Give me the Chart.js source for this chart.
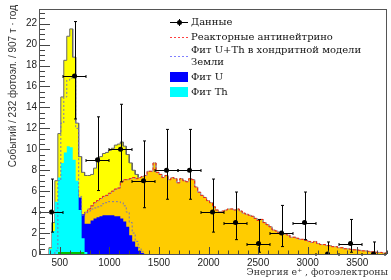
<!DOCTYPE html>
<html>
<head>
<meta charset="utf-8">
<script src="https://cdn.jsdelivr.net/npm/chart.js@4.4.0/dist/chart.umd.min.js"></script>
<style>
  html, body { margin: 0; padding: 0; background: #fff; }
</style>
</head>
<body>
<canvas id="geo" width="391" height="280"></canvas>
<script>
//! Data (points with Poisson error bars, 232 p.e. bins)

const dataE = [416, 648, 880, 1112, 1344, 1576, 1808, 2040, 2272, 2504, 2736, 2968, 3200, 3432, 3664];
const dataN = [4, 17, 9, 10, 7, 8, 8, 4, 3, 1, 2, 3, 0, 1, 0];
const dataLow = [2.09, 12.9, 6.06, 6.89, 4.42, 5.23, 5.23, 2.09, 1.37, 0.17, 0.71, 1.37, 0, 0.17, 0];
const dataHigh = [7.16, 22.2, 13.1, 14.3, 10.8, 11.9, 11.9, 7.16, 5.92, 3.3, 4.64, 5.92, 1.15, 3.3, 1.15];
const dataHalfBin = 116;

//! Model histograms (30 p.e. bins)

const binWidth = 30;

const totalStart = 390;
const totalFit = [0.6, 3.0, 7.0, 11.5, 15.0, 18.5, 20.8, 21.5, 18.8, 12.5, 9.3, 7.8, 7.5, 7.5, 7.6,
  8.2, 8.8, 9.3, 9.6, 9.7, 9.9, 10.1, 10.4, 10.5, 10.7, 10.3, 9.5, 8.7, 8.0, 7.6, 7.3];

const reactorStart = 690;
const reactor = [2.0, 3.6, 4.0, 4.3, 4.6, 4.9, 5.1, 5.3, 5.5, 5.6, 5.8, 6.0, 6.2, 6.3, 6.9, 7.1, 7.1,
  7.2, 7.3, 7.2, 7.3, 7.4,
  7.5, 7.9, 7.9, 8.7, 7.8, 7.6, 7.3, 7.5, 7.1, 7.3,
  7.2, 6.8, 7.2, 7.0, 6.9, 7.2, 7.1, 6.4, 5.9, 5.6,
  5.4, 5.1, 4.9, 4.5, 4.2, 4.0, 4.1, 4.2, 4.3, 4.3,
  4.2, 4.3, 4.1, 3.9, 3.8, 3.7, 3.6, 3.4, 3.2, 3.3,
  3.0, 2.8, 2.6, 2.3, 2.2, 2.0, 2.0, 1.9, 1.8, 1.6,
  1.6, 1.5, 1.4, 1.4, 1.3, 1.2, 1.1, 1.2, 1.0, 0.9,
  0.9, 0.8, 0.8, 0.7, 0.7, 0.6, 0.6, 0.5, 0.5, 0.45,
  0.4, 0.4, 0.35, 0.3, 0.3, 0.25, 0.2, 0.2, 0.15, 0.15,
  0.1, 0.1];

const uStart = 630;
const fitU = [6.5, 6.2, 5.4, 3.8, 2.9, 2.9, 3.2, 3.4, 3.5, 3.6, 3.7, 3.7, 3.7, 3.7, 3.6, 3.6, 3.4,
  3.1, 2.6, 1.8, 1.2, 0.7, 0.3, 0.1];

const thStart = 390;
const fitTh = [0.5, 2.2, 5.0, 7.3, 8.7, 9.7, 10.3, 10.2, 9.0, 7.0, 4.2, 1.5, 0.2];

const chondStart = 450;
const chondUTh = [0.3, 7.0, 12.5, 15.0, 16.6, 16.8, 17.0, 12.0, 5.5, 3.7, 3.9, 4.1, 4.3, 4.4, 4.5,
  4.6, 4.8, 4.9, 5.0, 5.0, 5.0, 5.0, 4.9, 4.6, 4.0, 3.0, 2.0, 1.2, 0.6, 0.2];

const otherStart = 480;
const otherBkg = [0.2, 0.2, 0.2, 0.2, 0.2, 0.2, 0.2, 0.2, 0.2];

const xTicks = [500, 1000, 1500, 2000, 2500, 3000, 3500];
const yTicks = [0, 2, 4, 6, 8, 10, 12, 14, 16, 18, 20, 22];

const legendLabels = ["Данные", "Реакторные антинейтрино", "Фит U+Th в хондритной модели", "Земли", "Фит U", "Фит Th"];

//! Helpers

function histPoints(start, values) {
  const pts = [{ x: start, y: 0 }];
  values.forEach((v, i) => {
    pts.push({ x: start + i * binWidth, y: v });
    pts.push({ x: start + (i + 1) * binWidth, y: v });
  });
  pts.push({ x: start + values.length * binWidth, y: 0 });
  return pts;
}

function histSet(label, start, values, opts) {
  return Object.assign({
    label: label,
    data: histPoints(start, values),
    pointRadius: 0,
    tension: 0,
    borderWidth: 1,
    fill: false,
  }, opts);
}

//! Plugins

const errorBars = {
  id: "errorBars",
  afterDatasetsDraw(chart) {
    const { ctx } = chart;
    const x = chart.scales.x, y = chart.scales.y;
    ctx.save();
    ctx.strokeStyle = "#000";
    ctx.lineWidth = 1;
    dataE.forEach((e, i) => {
      const px = Math.round(x.getPixelForValue(e)) + 0.5;
      const py = Math.round(y.getPixelForValue(dataN[i])) + 0.5;
      const xl = x.getPixelForValue(e - dataHalfBin);
      const xr = x.getPixelForValue(e + dataHalfBin);
      const yt = y.getPixelForValue(dataHigh[i]);
      const yb = y.getPixelForValue(dataLow[i]);
      ctx.beginPath();
      ctx.moveTo(xl, py); ctx.lineTo(xr, py);
      ctx.moveTo(px, yt); ctx.lineTo(px, yb);
      ctx.moveTo(xl, py - 1.5); ctx.lineTo(xl, py + 1.5);
      ctx.moveTo(xr, py - 1.5); ctx.lineTo(xr, py + 1.5);
      ctx.moveTo(px - 1.5, yt); ctx.lineTo(px + 1.5, yt);
      ctx.moveTo(px - 1.5, yb); ctx.lineTo(px + 1.5, yb);
      ctx.stroke();
    });
    ctx.restore();
  },
};

const rootFrame = {
  id: "rootFrame",
  afterDatasetsDraw(chart) {
    const { ctx, chartArea: a } = chart;
    const x = chart.scales.x, y = chart.scales.y;
    ctx.save();
    ctx.strokeStyle = "#444";
    ctx.lineWidth = 1;
    ctx.beginPath();
    // y ticks, major 2, minor 0.5
    for (let v = 0; v <= y.max + 1e-9; v += 0.5) {
      const py = Math.round(y.getPixelForValue(v)) + 0.5;
      const len = Math.abs(v % 2) < 1e-6 ? 10 : 5;
      ctx.moveTo(a.left, py); ctx.lineTo(a.left + len, py);
    }
    // x ticks, major 500, minor 100
    for (let v = 300; v <= x.max + 1e-9; v += 100) {
      const px = Math.round(x.getPixelForValue(v)) + 0.5;
      const len = v % 500 === 0 ? 7 : 3.5;
      ctx.moveTo(px, a.bottom); ctx.lineTo(px, a.bottom - len);
    }
    ctx.stroke();
    ctx.strokeStyle = "#555";
    ctx.strokeRect(Math.round(a.left) - 0.5, Math.round(a.top) + 0.5,
      Math.round(a.right - a.left), Math.round(a.bottom - a.top));
    ctx.restore();
  },
};

const rootTexts = {
  id: "rootTexts",
  afterDraw(chart) {
    const { ctx } = chart;
    ctx.save();
    // axis titles
    ctx.fillStyle = "#333";
    ctx.font = "9.4px 'DejaVu Serif'";
    ctx.textAlign = "right";
    ctx.textBaseline = "middle";
    ctx.fillText("Энергия e\u207A , фотоэлектроны", 388, 273);
    ctx.translate(13, 5);
    ctx.rotate(-Math.PI / 2);
    ctx.font = "10px 'Liberation Sans'";
    ctx.fillText("Событий / 232 фотоэл. / 907 т · год", 0, 0);
    ctx.restore();

    // legend
    ctx.save();
    ctx.font = "10px 'DejaVu Serif'";
    ctx.fillStyle = "#111";
    ctx.textAlign = "left";
    ctx.textBaseline = "middle";
    const tx = 191;
    const rows = [22.5, 37, 50.5, 62.5, 77, 92];
    rows.forEach((ry, i) => ctx.fillText(legendLabels[i], tx, ry));

    ctx.lineWidth = 1;
    ctx.strokeStyle = "#000";
    ctx.beginPath();
    ctx.moveTo(170, 22.5); ctx.lineTo(188, 22.5);
    ctx.moveTo(179.5, 19); ctx.lineTo(179.5, 26);
    ctx.stroke();
    ctx.beginPath();
    ctx.arc(179.5, 22.5, 2.5, 0, Math.PI * 2);
    ctx.fillStyle = "#000";
    ctx.fill();

    ctx.strokeStyle = "#ff4040";
    ctx.setLineDash([2, 2]);
    ctx.beginPath();
    ctx.moveTo(170, 37.5); ctx.lineTo(188, 37.5);
    ctx.stroke();
    ctx.strokeStyle = "#8080ff";
    ctx.beginPath();
    ctx.moveTo(170, 56.5); ctx.lineTo(188, 56.5);
    ctx.stroke();
    ctx.setLineDash([]);

    ctx.fillStyle = "#0000ff";
    ctx.fillRect(170, 72, 18, 10);
    ctx.fillStyle = "#00ffff";
    ctx.fillRect(170, 87, 18, 10);
    ctx.restore();
  },
};

//! Chart

new Chart(document.getElementById("geo"), {
  type: "line",
  data: {
    datasets: [
      {
        label: "Данные",
        data: dataE.map((e, i) => ({ x: e, y: dataN[i] })),
        showLine: false,
        pointRadius: 2.5,
        pointBackgroundColor: "#000",
        pointBorderWidth: 0,
        order: 0,
      },
      histSet("Фит U+Th в хондритной модели", chondStart, chondUTh, {
        borderColor: "#7676b4", borderDash: [2, 2], order: 2,
      }),
      histSet("other", otherStart, otherBkg, {
        borderColor: "#00b000", backgroundColor: "#00c000", fill: "origin", borderWidth: 0, order: 3,
      }),
      histSet("Фит Th", thStart, fitTh, {
        borderColor: "#00ffff", backgroundColor: "#00ffff", fill: "origin", borderWidth: 0, order: 4,
      }),
      histSet("Фит U", uStart, fitU, {
        borderColor: "#0000ff", backgroundColor: "#0000ff", fill: "origin", borderWidth: 0, order: 5,
      }),
      histSet("Реакторные антинейтрино", reactorStart, reactor, {
        borderColor: "#ff2000", borderDash: [3, 2], order: 6,
      }),
      histSet("reactor fill", reactorStart, reactor, {
        borderColor: "#999", backgroundColor: "#ffcc00", fill: "origin", order: 7,
      }),
      histSet("total", totalStart, totalFit, {
        borderColor: "#666", backgroundColor: "#ffff00", fill: "origin", order: 8,
      }),
    ],
  },
  options: {
    responsive: false,
    animation: false,
    layout: { padding: { top: 5, right: 4, left: 0, bottom: 0 } },
    plugins: { legend: { display: false }, tooltip: { enabled: false } },
    scales: {
      x: {
        type: "linear",
        min: 300,
        max: 3800,
        grid: { display: false, drawTicks: false },
        border: { display: false },
        afterFit: (s) => { s.height = 26; },
        afterBuildTicks: (s) => { s.ticks = xTicks.map((v) => ({ value: v })); },
        ticks: {
          padding: 3, color: "#222", maxRotation: 0,
          font: { family: "Liberation Sans", size: 10 },
          callback: (v) => String(v),
        },
      },
      y: {
        type: "linear",
        min: 0,
        max: 23.4,
        grid: { display: false, drawTicks: false },
        border: { display: false },
        afterFit: (s) => { s.width = 40; },
        afterBuildTicks: (s) => { s.ticks = yTicks.map((v) => ({ value: v })); },
        ticks: {
          padding: 3, color: "#222",
          font: { family: "Liberation Sans", size: 10 },
          callback: (v) => String(v),
        },
      },
    },
  },
  plugins: [errorBars, rootFrame, rootTexts],
});
</script>
</body>
</html>
